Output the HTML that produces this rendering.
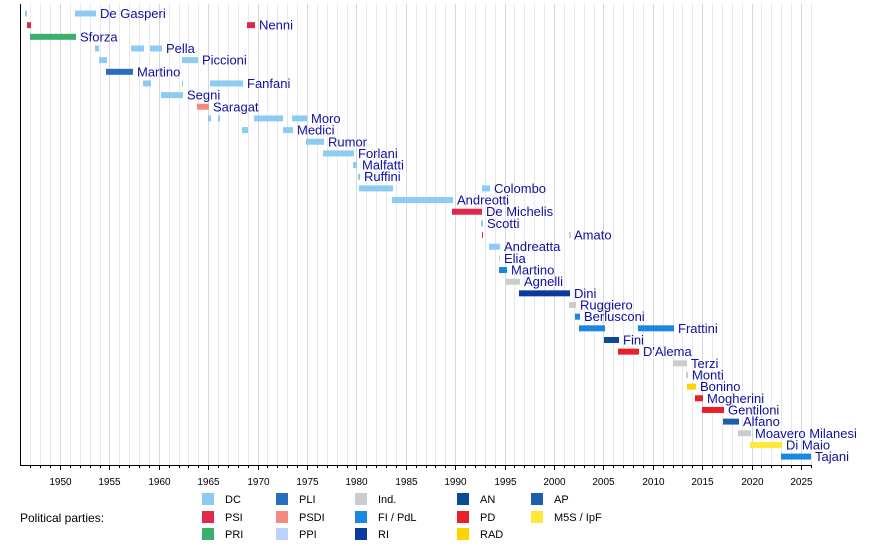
<!DOCTYPE html>
<html><head><meta charset="utf-8"><style>
body{margin:0;background:#fff;}
svg{display:block;font-family:"Liberation Sans",sans-serif;}
.l{fill:#1010a0;font-size:13px;}
.y{fill:#000;font-size:10px;text-anchor:middle;}
.g{fill:#000;font-size:11px;}
</style></head><body>
<svg width="890" height="546" viewBox="0 0 890 546" xmlns="http://www.w3.org/2000/svg">
<g id="grid"></g>
<g id="bars"></g>
<line x1="20.5" y1="4" x2="20.5" y2="465" stroke="#000"/>
<line x1="20" y1="465.5" x2="812" y2="465.5" stroke="#000"/>
<g id="ticks"></g>
<g id="labels"></g>
<text x="20" y="522" class="g" style="font-size:12px">Political parties:</text>
<g id="legend"></g>
<script>
var ns="http://www.w3.org/2000/svg";
function el(p,t,a,txt){var e=document.createElementNS(ns,t);for(var k in a)e.setAttribute(k,a[k]);if(txt)e.textContent=txt;document.getElementById(p).appendChild(e);return e;}
function X(y){return 60+(y-1950)*9.88;}
for(var yr=1947;yr<=2026;yr++){var x=Math.round(X(yr))+0.5;
 el("grid","line",{x1:x,y1:4,x2:x,y2:465,stroke:yr%5==0?"#d8d8d8":"#e8e8e8"});
 el("ticks","line",{x1:x,y1:465,x2:x,y2:yr%5==0?470:468,stroke:"#000"});
 if(yr%5==0&&yr>=1950&&yr<=2025) el("ticks","text",{x:x,y:485,"class":"y"},String(yr));}
var C={DC:"#8ccbf2",PSI:"#e0284f",PRI:"#3cae6e",PLI:"#2a6ebb",PSDI:"#f58a80",PPI:"#bfd0fa",Ind:"#cccccc",FI:"#1a88e0",RI:"#0a3a9e",AN:"#0a4b94",PD:"#e8202a",RAD:"#ffd200",AP:"#1e5eae",M5S:"#ffe838"};
var R=[
["De Gasperi",100,[[25,27,"DC"],[75,96,"DC"]]],
["Nenni",259,[[27,31,"PSI"],[247,255,"PSI"]]],
["Sforza",80,[[30,76,"PRI"]]],
["Pella",166,[[95,99,"DC"],[131,144,"DC"],[150,162,"DC"]]],
["Piccioni",202,[[99,107,"DC"],[182,198,"DC"]]],
["Martino",137,[[106,133,"PLI"]]],
["Fanfani",247,[[143,151,"DC"],[182,183,"DC"],[210,243,"DC"]]],
["Segni",187,[[161,183,"DC"]]],
["Saragat",213,[[197,209,"PSDI"]]],
["Moro",311,[[208,211,"DC"],[218,220,"DC"],[254,283,"DC"],[292,307,"DC"]]],
["Medici",297,[[242,248,"DC"],[283,293,"DC"]]],
["Rumor",328,[[306,324,"DC"]]],
["Forlani",358,[[323,354,"DC"]]],
["Malfatti",362,[[353,357,"DC"]]],
["Ruffini",364,[[358,360,"DC"]]],
["Colombo",494,[[359,393,"DC"],[482,490,"DC"]]],
["Andreotti",457,[[392,453,"DC"]]],
["De Michelis",486,[[452,482,"PSI"]]],
["Scotti",487,[[481,483,"DC"]]],
["Amato",574,[[482,483,"PSI"],[569,571,"Ind"]]],
["Andreatta",504,[[489,500,"DC"]]],
["Elia",504,[[499,500,"PPI"]]],
["Martino",511,[[499,507,"FI"]]],
["Agnelli",524,[[506,520,"Ind"]]],
["Dini",574,[[519,570,"RI"]]],
["Ruggiero",580,[[569,576,"Ind"]]],
["Berlusconi",584,[[575,580,"FI"]]],
["Frattini",678,[[579,605,"FI"],[638,674,"FI"]]],
["Fini",623,[[604,619,"AN"]]],
["D'Alema",643,[[618,639,"PD"]]],
["Terzi",691,[[673,687,"Ind"]]],
["Monti",692,[[686,688,"Ind"]]],
["Bonino",700,[[687,696,"RAD"]]],
["Mogherini",707,[[695,703,"PD"]]],
["Gentiloni",728,[[702,724,"PD"]]],
["Alfano",743,[[723,739,"AP"]]],
["Moavero Milanesi",755,[[738,751,"Ind"]]],
["Di Maio",786,[[750,782,"M5S"]]],
["Tajani",815,[[781,811,"FI"]]]];
R.forEach(function(r,i){var cy=13.5+i*11.66;
 r[2].forEach(function(b){el("bars","rect",{x:b[0],y:cy-3,width:Math.max(1,b[1]-b[0]),height:6,fill:C[b[2]]});});
 el("labels","text",{x:r[1],y:cy+4.5,"class":"l"},r[0]);});
var L=[[202,493,"DC","DC"],[202,511,"PSI","PSI"],[202,528,"PRI","PRI"],
[276,493,"PLI","PLI"],[276,511,"PSDI","PSDI"],[276,528,"PPI","PPI"],
[355,493,"Ind","Ind."],[355,511,"FI","FI / PdL"],[355,528,"RI","RI"],
[457,493,"AN","AN"],[457,511,"PD","PD"],[457,528,"RAD","RAD"],
[531,493,"AP","AP"],[531,511,"M5S","M5S / IpF"]];
L.forEach(function(l){el("legend","rect",{x:l[0],y:l[1],width:12,height:12,fill:C[l[2]]});
 el("legend","text",{x:l[0]+23,y:l[1]+10,"class":"g"},l[3]);});
</script>
</svg>
</body></html>
